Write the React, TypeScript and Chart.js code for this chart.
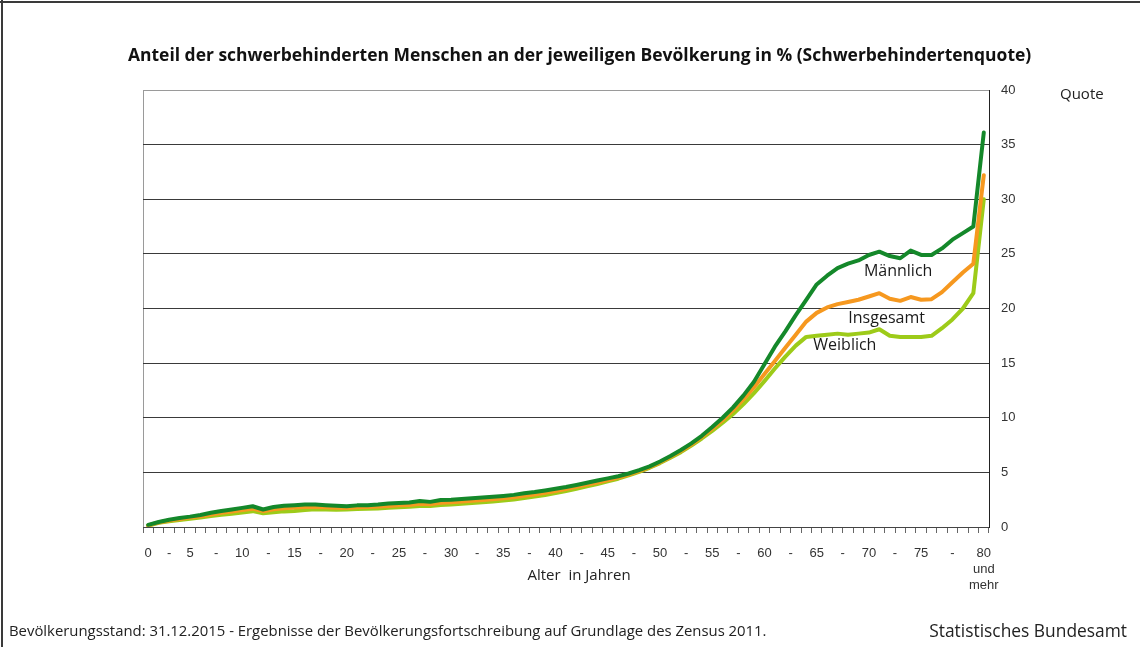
import React, { useEffect, useRef } from 'react';
import { Chart, registerables } from 'chart.js';

Chart.register(...registerables);

// ---- Data ----
const ages = [
  '0','1','2','3','4','5','6','7','8','9','10','11','12','13','14','15','16','17','18','19','20',
  '21','22','23','24','25','26','27','28','29','30','31','32','33','34','35','36','37','38','39','40',
  '41','42','43','44','45','46','47','48','49','50','51','52','53','54','55','56','57','58','59','60',
  '61','62','63','64','65','66','67','68','69','70','71','72','73','74','75','76','77','78','79','80 und mehr',
];

const maennlich = [
  0.2, 0.46, 0.67, 0.83, 0.95, 1.1, 1.3, 1.47, 1.6, 1.75, 1.9, 1.6, 1.83, 1.95, 2.0, 2.05, 2.05, 2.0, 1.95, 1.9, 1.98,
  2.0, 2.06, 2.15, 2.2, 2.25, 2.38, 2.3, 2.47, 2.5, 2.56, 2.63, 2.7, 2.76, 2.84, 2.94, 3.08, 3.2, 3.35, 3.5, 3.66,
  3.85, 4.05, 4.25, 4.45, 4.65, 4.9, 5.2, 5.55, 6.0, 6.5, 7.05, 7.65, 8.35, 9.15, 10.0, 10.95, 12.05, 13.3, 14.9, 16.5,
  17.9, 19.4, 20.8, 22.2, 23.0, 23.7, 24.1, 24.4, 24.9, 25.2, 24.8, 24.6, 25.3, 24.9, 24.9, 25.5, 26.3, 26.9, 27.5, 36.1,
];

const insgesamt = [
  0.15, 0.42, 0.6, 0.74, 0.86, 0.98, 1.15, 1.3, 1.42, 1.55, 1.68, 1.45, 1.62, 1.72, 1.78, 1.83, 1.84, 1.8, 1.76, 1.74, 1.8,
  1.82, 1.87, 1.93, 1.98, 2.02, 2.12, 2.08, 2.22, 2.26, 2.33, 2.4, 2.47, 2.53, 2.62, 2.72, 2.86, 2.98, 3.13, 3.3, 3.48,
  3.68, 3.88, 4.08, 4.3, 4.52, 4.8, 5.12, 5.48, 5.92, 6.42, 6.95, 7.55, 8.25, 9.0, 9.8, 10.7, 11.7, 12.8, 14.0, 15.2,
  16.4, 17.6, 18.8, 19.6, 20.1, 20.4, 20.6, 20.8, 21.1, 21.4, 20.9, 20.7, 21.05, 20.8, 20.85, 21.5, 22.4, 23.3, 24.1, 32.2,
];

const weiblich = [
  0.12, 0.38, 0.53, 0.65, 0.76, 0.86, 1.0, 1.12, 1.22, 1.33, 1.45, 1.25, 1.35, 1.43, 1.47, 1.56, 1.62, 1.6, 1.57, 1.6, 1.65,
  1.67, 1.7, 1.76, 1.8, 1.85, 1.93, 1.92, 2.02, 2.07, 2.13, 2.2, 2.27, 2.34, 2.42, 2.52, 2.66, 2.78, 2.93, 3.1, 3.3,
  3.5, 3.72, 3.94, 4.18, 4.42, 4.72, 5.05, 5.42, 5.85, 6.35, 6.85, 7.45, 8.1, 8.8, 9.55, 10.35, 11.25, 12.25, 13.35, 14.5,
  15.6, 16.6, 17.4, 17.5, 17.6, 17.7, 17.6, 17.7, 17.8, 18.1, 17.5, 17.4, 17.4, 17.4, 17.5, 18.2, 19.0, 20.0, 21.4, 30.0,
];

const xTickLabels = [
  '0', '-', '5', '-', '10', '-', '15', '-', '20', '-', '25', '-', '30', '-', '35', '-', '40',
  '-', '45', '-', '50', '-', '55', '-', '60', '-', '65', '-', '70', '-', '75', '-', '80\nund\nmehr',
];

const yTicks = [0, 5, 10, 15, 20, 25, 30, 35, 40];

const seriesNames = ['Männlich', 'Insgesamt', 'Weiblich'];
const seriesColors = ['#14882a', '#f6981f', '#9dcb19'];

// label anchors (in data units: age, quote)
const lineLabelAnchors = [
  { text: 'Männlich', age: 71.8, value: 23.4 },
  { text: 'Insgesamt', age: 70.7, value: 19.1 },
  { text: 'Weiblich', age: 66.7, value: 16.65 },
];

const TITLE = 'Anteil der schwerbehinderten Menschen an der jeweiligen Bevölkerung in % (Schwerbehindertenquote)';
const FOOTER = 'Bevölkerungsstand: 31.12.2015 - Ergebnisse der Bevölkerungsfortschreibung auf Grundlage des Zensus 2011.';
const SOURCE = 'Statistisches Bundesamt';
const X_TITLE = 'Alter  in Jahren';
const Y_TITLE = 'Quote';

const FONT_TXT = '"Open Sans", "Noto Sans", sans-serif';
const FONT_AX = '"Liberation Sans", Arial, sans-serif';

// position of each x tick label (labels sit one year left of their value, ends excepted)
function labelPos(i: number): number {
  const n = xTickLabels.length - 1;
  const base = (k: number) => {
    const v = k * 2.5;
    if (k === 0) return 0;
    if (k === n) return 80;
    return v - 1;
  };
  if (i % 2 === 1) return (base(i - 1) + base(i + 1)) / 2;
  return base(i);
}

function setFitFont(ctx: CanvasRenderingContext2D, text: string, weight: string, family: string, targetW: number) {
  ctx.font = `${weight} 20px ${family}`;
  const w = ctx.measureText(text).width;
  const size = (20 * targetW) / w;
  ctx.font = `${weight} ${size}px ${family}`;
}

const decorPlugin = {
  id: 'decor',
  beforeDraw(chart: any) {
    const { ctx, chartArea } = chart;
    ctx.save();
    ctx.fillStyle = '#ffffff';
    ctx.fillRect(0, 0, chart.width, chart.height);
    // outer frame (top + left)
    ctx.fillStyle = '#3a3a3a';
    ctx.fillRect(0, 1, chart.width, 2);
    ctx.fillRect(1, 0, 2, chart.height);
    // left plot frame
    ctx.strokeStyle = '#9a9a9a';
    ctx.lineWidth = 1;
    ctx.beginPath();
    ctx.moveTo(chartArea.left + 0.5, chartArea.top);
    ctx.lineTo(chartArea.left + 0.5, chartArea.bottom);
    ctx.stroke();
    ctx.restore();
  },
  afterDraw(chart: any) {
    const { ctx } = chart;
    const xs = chart.scales.xl;
    const ys = chart.scales.y;
    ctx.save();
    ctx.fillStyle = '#111';
    ctx.textBaseline = 'middle';
    ctx.textAlign = 'left';
    // title
    setFitFont(ctx, TITLE, 'bold', FONT_TXT, 904);
    ctx.fillText(TITLE, 128, 56);
    // y axis title
    ctx.font = `15px ${FONT_TXT}`;
    ctx.fillStyle = '#222';
    ctx.fillText(Y_TITLE, 1060, 95);
    // x axis title
    ctx.textAlign = 'center';
    ctx.font = `15px ${FONT_TXT}`;
    ctx.fillText(X_TITLE, 579, 576);
    // footer
    ctx.textAlign = 'left';
    setFitFont(ctx, FOOTER, 'normal', FONT_TXT, 758);
    ctx.fillText(FOOTER, 9, 632);
    ctx.textAlign = 'right';
    setFitFont(ctx, SOURCE, 'normal', FONT_TXT, 198);
    ctx.fillText(SOURCE, 1127, 632);
    // line labels
    ctx.textAlign = 'center';
    ctx.font = `16px ${FONT_TXT}`;
    ctx.fillStyle = '#1a1a1a';
    for (const l of lineLabelAnchors) {
      ctx.fillText(l.text, xs.getPixelForValue(l.age), ys.getPixelForValue(l.value));
    }
    ctx.restore();
  },
};

export default function App() {
  const ref = useRef<HTMLCanvasElement | null>(null);

  useEffect(() => {
    const canvas = ref.current;
    if (!canvas) return;
    const series = [maennlich, insgesamt, weiblich];
    const chart = new Chart(canvas, {
      type: 'line',
      data: {
        labels: ages,
        datasets: series.map((d, i) => ({
          label: seriesNames[i],
          data: d,
          borderColor: seriesColors[i],
          backgroundColor: seriesColors[i],
          borderWidth: 4,
          pointRadius: 0,
          pointHoverRadius: 0,
          tension: 0,
          fill: false,
          borderJoinStyle: 'round' as const,
          borderCapStyle: 'round' as const,
        })),
      },
      options: {
        responsive: false,
        animation: false,
        devicePixelRatio: 1,
        layout: { padding: { left: 143, top: 90, right: 0, bottom: 58 } },
        plugins: {
          legend: { display: false },
          tooltip: { enabled: false },
          title: { display: false },
        },
        scales: {
          x: {
            type: 'category',
            position: 'bottom',
            offset: true,
            weight: 0,
            grid: {
              offset: true,
              drawOnChartArea: false,
              drawTicks: true,
              tickLength: 6,
              color: '#666',
            },
            border: { display: true, color: '#444', width: 1 },
            ticks: { display: false },
            afterFit: (s: any) => {
              s.height = 6;
            },
          },
          xl: {
            type: 'linear',
            position: 'bottom',
            min: -0.5,
            max: 80.5,
            bounds: 'data',
            weight: 1,
            grid: { display: false },
            border: { display: false },
            afterBuildTicks: (s: any) => {
              s.ticks = xTickLabels.map((_, i) => ({ value: labelPos(i) }));
            },
            ticks: {
              autoSkip: false,
              maxRotation: 0,
              minRotation: 0,
              padding: 4,
              color: '#333',
              font: { family: FONT_AX, size: 13, lineHeight: 1.25 },
              callback: (_v: any, i: number) => {
                const t = xTickLabels[i];
                return t.includes('\n') ? t.split('\n') : t;
              },
            },
            afterFit: (s: any) => {
              s.height = 56;
            },
          },
          y: {
            position: 'right',
            min: 0,
            max: 40,
            afterBuildTicks: (s: any) => {
              s.ticks = yTicks.map((v) => ({ value: v }));
            },
            ticks: {
              padding: 12,
              color: '#333',
              font: { family: FONT_AX, size: 13 },
            },
            grid: {
              drawTicks: false,
              color: (c: any) => (c.tick && c.tick.value === 40 ? '#9a9a9a' : '#3a3a3a'),
              lineWidth: 1,
            },
            border: { display: true, color: '#222', width: 1 },
            afterFit: (s: any) => {
              s.width = 151;
            },
          },
        },
      },
      plugins: [decorPlugin],
    } as any);
    return () => chart.destroy();
  }, []);

  return (
    <div style={{ position: 'absolute', left: 0, top: 0, width: 1140, height: 647, background: '#fff' }}>
      <canvas ref={ref} width={1140} height={647} style={{ display: 'block', width: 1140, height: 647 }} />
    </div>
  );
}
